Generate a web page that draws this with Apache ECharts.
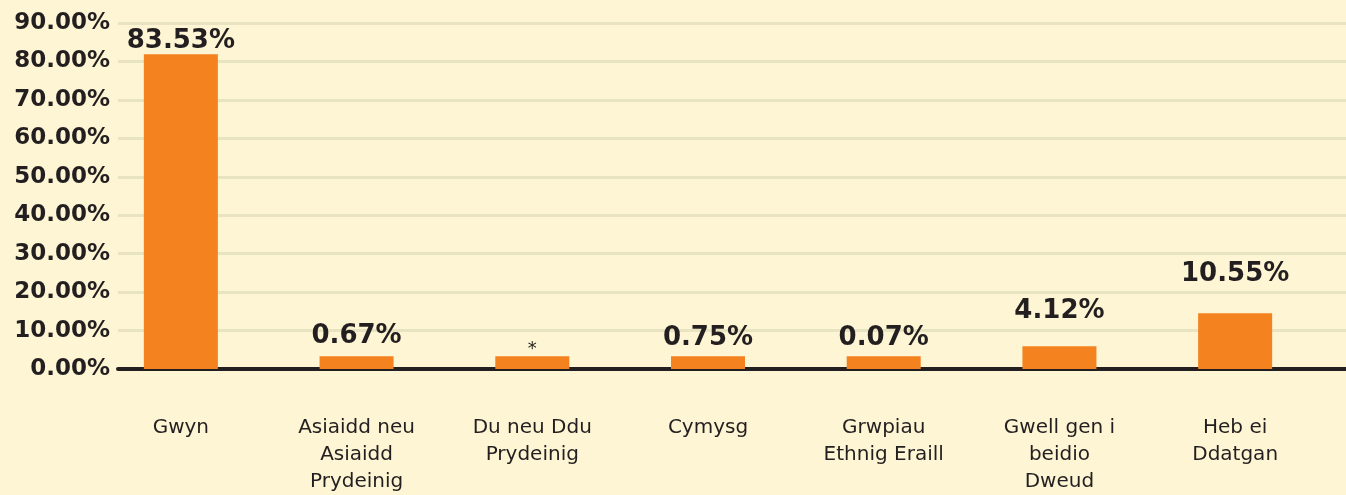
<!DOCTYPE html>
<html>
<head>
<meta charset="utf-8">
<script src="https://cdn.jsdelivr.net/npm/echarts@6/dist/echarts.min.js"></script>
<style>
html, body { margin: 0; padding: 0; background: #fdf5d3; }
#chart { width: 1346px; height: 495px; }
</style>
</head>
<body>
<div id="chart"></div>
<script>
var categories = ['Gwyn', 'Asiaidd neu\nAsiaidd\nPrydeinig', 'Du neu Ddu\nPrydeinig', 'Cymysg',
    'Grwpiau\nEthnig Eraill', 'Gwell gen i\nbeidio\nDweud', 'Heb ei\nDdatgan'];
// bar heights as drawn in the picture (the labels do not match them exactly)
var barHeights = [81.9, 3.3, 3.3, 3.3, 3.3, 5.9, 14.5];
var valueLabels = ['83.53%', '0.67%', '*', '0.75%', '0.07%', '4.12%', '10.55%'];
var yMax = 90, yStep = 10;

// gap between bar top and its label
var labelGap = [0, 7, -2, 5, 5, 22, 26];

var ink = '#231f20';
var chart = echarts.init(document.getElementById('chart'));

var barData = barHeights.map(function (v, i) {
    var lbl = { formatter: valueLabels[i], distance: labelGap[i] };
    if (valueLabels[i] === '*') {
        lbl.fontSize = 18;
        lbl.fontWeight = 'normal';
    }
    return { value: v, label: lbl };
});

chart.setOption({
    backgroundColor: '#fdf5d3',
    animation: false,
    grid: [
        { left: 118, right: 0, top: 23, bottom: 126 },
        { left: 93, right: 23, top: 23, bottom: 126 }
    ],
    xAxis: [
        {
            gridIndex: 0, type: 'category', data: categories,
            axisLine: { show: true, lineStyle: { color: ink, width: 4 } },
            axisTick: { show: false }, axisLabel: { show: false }
        },
        {
            gridIndex: 1, type: 'category', data: categories,
            axisLine: { show: false }, axisTick: { show: false },
            axisLabel: {
                interval: 0, margin: 45, color: ink, fontSize: 20, lineHeight: 27,
                fontFamily: 'DejaVu Sans'
            }
        }
    ],
    yAxis: [
        {
            gridIndex: 0, type: 'value', min: 0, max: yMax, interval: yStep,
            axisLine: { show: false }, axisTick: { show: false },
            axisLabel: {
                margin: 8, color: ink, fontSize: 23, fontFamily: 'DejaVu Sans', fontWeight: 'bold',
                formatter: function (v) { return v.toFixed(2) + '%'; }
            },
            splitLine: { lineStyle: { color: '#e8e3c0', width: 3 } }
        },
        {
            gridIndex: 1, type: 'value', min: 0, max: yMax, interval: yStep, show: false
        }
    ],
    series: [{
        type: 'bar',
        xAxisIndex: 1, yAxisIndex: 1,
        barWidth: 74,
        itemStyle: { color: '#f4821f' },
        label: {
            show: true, position: 'top', color: ink, fontSize: 26,
            fontFamily: 'DejaVu Sans', fontWeight: 'bold'
        },
        data: barData
    }]
});
</script>
</body>
</html>
